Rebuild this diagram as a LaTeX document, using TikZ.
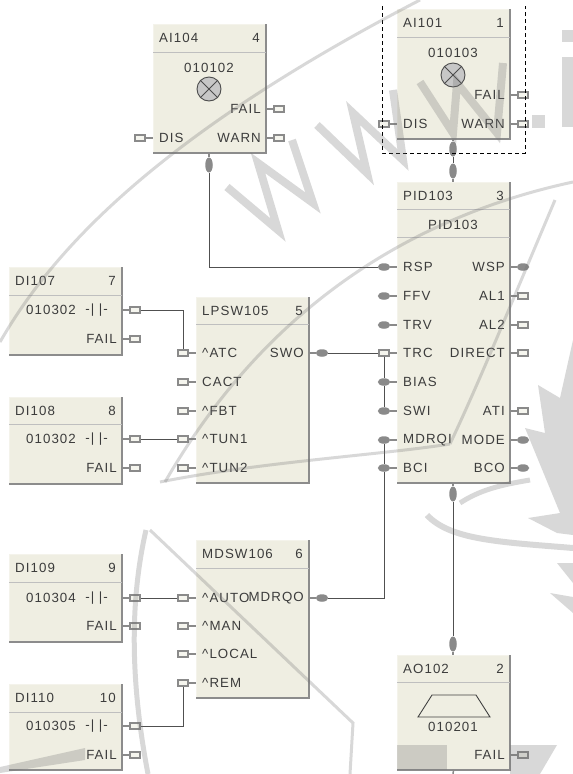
\documentclass[tikz,border=0pt]{standalone}
\usepackage{fontspec}
\setmainfont[LetterSpace=8]{Liberation Sans}
\usepackage{tikz}
\usetikzlibrary{shapes.geometric}
\definecolor{blockfill}{HTML}{EFEEE2}
\definecolor{pingray}{HTML}{8A8A8A}
\definecolor{wiregray}{HTML}{505050}
\definecolor{textgray}{HTML}{3C3C3C}

\begin{document}
\begin{tikzpicture}[x=1pt,y=-1pt,
  block/.style={draw=blockfill!70!white,fill=blockfill,line width=1pt,anchor=north west,inner sep=0pt,outer sep=0pt,minimum width=113pt},
  bevel/.style={draw=black!45,line width=1.5pt},
  rule/.style={draw=black!25,line width=0.9pt},
  lbl/.style={text=textgray,font=\fontsize{13.3}{15}\selectfont,inner sep=0pt},
  sqpin/.style={draw=pingray,fill=blockfill!60!white,line width=1.9pt,rectangle,inner sep=0pt,minimum width=9.5pt,minimum height=5.5pt},
  rdpin/.style={fill=pingray,ellipse,inner sep=0pt,minimum width=12.5pt,minimum height=7.5pt},
  vpin/.style={fill=pingray,ellipse,inner sep=0pt,minimum width=7.5pt,minimum height=15pt},
  stub/.style={draw=pingray,line width=1.5pt},
  wire/.style={draw=wiregray,line width=1pt}]

\useasboundingbox (0,0) rectangle (573,774);

% Draw the blocks
\foreach \blk/\ttl/\num/\x/\y/\h/\d in {ai104/AI104/4/153/24/129/28,ai101/AI101/1/397/9/130/28,
    pid103/PID103/3/397/182/301/27,di107/DI107/7/9/267/88/28,lpsw105/LPSW105/5/196/297/186/27,
    di108/DI108/8/9/397/87/27,mdsw106/MDSW106/6/196/540/158/28,di109/DI109/9/9/554/88/28,
    di110/DI110/10/9/684/86/28,ao102/AO102/2/397/655/115/27} {
  \node[block,minimum height=\h pt] (\blk) at (\x,\y) {};
  \draw[bevel] (\blk.north east) -- (\blk.south east) -- (\blk.south west);
  \draw[rule] (\x,\y+\d) -- (\x+113,\y+\d);
  \node[lbl,anchor=west] (\blk-ttl) at (\x+6,\y+\d/2) {\ttl};
  \node[lbl,anchor=east] (\blk-num) at (\x+107,\y+\d/2) {\num};
}

% Second rule of the PID block
\draw[rule] (397,237) -- (510,237);

% Pins on the left of a block
\foreach \pinn/\x/\y/\txt/\kind in {ai104dis/153/138/DIS/sqpin,ai101dis/397/124/DIS/sqpin,
    pidrsp/397/267/RSP/rdpin,pidffv/397/296/FFV/rdpin,pidtrv/397/325/TRV/rdpin,pidtrc/397/353/TRC/sqpin,
    pidbias/397/382/BIAS/rdpin,pidswi/397/411/SWI/rdpin,pidmdrqi/397/440/MDRQI/rdpin,pidbci/397/468/BCI/rdpin,
    lpswatc/196/353/\textasciicircum ATC/sqpin,lpswcact/196/382/CACT/sqpin,lpswfbt/196/411/\textasciicircum FBT/sqpin,
    lpswtuna/196/439/\textasciicircum TUN1/sqpin,lpswtunb/196/468/\textasciicircum TUN2/sqpin,
    mdswauto/196/598/\textasciicircum AUTO/sqpin,mdswman/196/626/\textasciicircum MAN/sqpin,
    mdswlocal/196/654/\textasciicircum LOCAL/sqpin,mdswrem/196/683/\textasciicircum REM/sqpin} {
  \node[\kind] (\pinn) at (\x-13,\y) {};
  \draw[stub] (\pinn) -- (\x,\y);
  \node[lbl,anchor=west] (\pinn-l) at (\x+6,\y) {\txt};
}

% Pins on the right of a block
\foreach \pinn/\x/\y/\txt/\kind in {ai104fail/266/109/FAIL/sqpin,ai104warn/266/138/WARN/sqpin,
    ai101fail/510/95/FAIL/sqpin,ai101warn/510/124/WARN/sqpin,
    pidwsp/510/267/WSP/rdpin,pidala/510/296/AL1/sqpin,pidalb/510/325/AL2/sqpin,piddirect/510/353/DIRECT/sqpin,
    pidati/510/411/ATI/sqpin,pidmode/510/440/MODE/rdpin,pidbco/510/468/BCO/rdpin,
    lpswswo/309/353/SWO/rdpin,mdswmdrqo/309/598/MDRQO/rdpin,
    di107out/122/310/{}/sqpin,di107fail/122/339/FAIL/sqpin,di108out/122/439/{}/sqpin,di108fail/122/468/FAIL/sqpin,
    di109out/122/598/{}/sqpin,di109fail/122/626/FAIL/sqpin,di110out/122/726/{}/sqpin,di110fail/122/755/FAIL/sqpin,
    aofail/510/755/FAIL/sqpin} {
  \node[\kind] (\pinn) at (\x+13,\y) {};
  \draw[stub] (\pinn) -- (\x,\y);
  \node[lbl,anchor=east] (\pinn-l) at (\x-5,\y) {\txt};
}

% Tags of the blocks
\foreach \tagn/\x/\y/\txt in {ai104tag/209/68/010102,ai101tag/453/53/010103,pidtag/453/225/PID103,
    di107tag/51/310/010302,di108tag/51/439/010302,di109tag/51/598/010304,di110tag/51/726/010305,aotag/453/727/010201}
  \node[lbl] (\tagn) at (\x,\y) {\txt};

% Contact signs
\foreach \sign/\y in {di107sign/310,di108sign/439,di109sign/598,di110sign/726}
  \node[lbl,anchor=east] (\sign) at (108,\y) {-|\,\,|-};

% Gauges
\foreach \gaugen/\x/\y in {ai104gauge/209/89,ai101gauge/453/75} {
  \node[circle,draw=black!70,fill=black!22,line width=0.9pt,minimum size=24pt,inner sep=0pt] (\gaugen) at (\x,\y) {};
  \draw[black!70,line width=0.9pt] (\gaugen.north west) -- (\gaugen.south east) (\gaugen.north east) -- (\gaugen.south west);
}

% Trapezoid of the output block
\draw[black!75,line width=0.9pt] (418,717) -- (432,695) -- (476,695) -- (490,717) -- cycle;

% Pins on the top and the bottom
\foreach \pinn/\x/\y/\edge in {ai104bot/209/165/153,ai101bot/453/149/139,pidtop/453/171/182,pidbot/453/494/483,aotop/453/644/655} {
  \node[vpin] (\pinn) at (\x,\y) {};
  \draw[stub] (\pinn) -- (\x,\edge);
}
\coordinate (aobot) at (453,774);
\draw[stub] (ao102.south) -- (aobot);

% Draw the wires
\draw[wire] (ai104bot) |- (pidrsp);
\draw[wire] (ai101bot) -- (pidtop);
\draw[wire] (lpswswo) -- (pidtrc);
\draw[wire] (pidtrc) -- (pidbias);
\draw[wire] (pidbias) -- (pidswi);
\draw[wire] (mdswmdrqo) -| (pidbci);
\draw[wire] (pidbci) -- (pidmdrqi);
\draw[wire] (pidbot) -- (aotop);
\draw[wire] (di107out) -| (lpswatc);
\draw[wire] (di108out) -- (lpswtuna);
\draw[wire] (di109out) -- (mdswauto);
\draw[wire] (di110out) -| (mdswrem);

% Dashed selection round AI101
\coordinate (seltl) at (382,6);
\coordinate (seltr) at (525,6);
\coordinate (selbr) at (525,153);
\coordinate (selbl) at (382,153);
\draw[black,line width=1pt,dash pattern=on 4pt off 3pt] (seltl) -- (selbl) -- (selbr) -- (seltr);

% Watermark
\begin{scope}[opacity=0.28,draw=black!55,fill=black!55,line width=3pt]
\draw (0,342) .. controls (50,255) and (150,140) .. (420,0);
\draw (573,182) .. controls (420,215) and (270,300) .. (165,482);
\draw (160,482) .. controls (260,462) and (380,455) .. (450,444);
\draw (450,444) .. controls (480,380) and (500,330) .. (555,200);
\draw[line width=5pt] (146,530) .. controls (130,600) and (130,680) .. (148,774);
\draw (150,530) -- (353,723) -- (350,774);
\draw[line width=8pt] (227,187) -- (278,230) -- (258,163) -- (313,203) -- (292,140);
\draw[line width=8pt] (317,125) -- (367,173) -- (353,113) -- (403,160) -- (393,90);
\draw[line width=8pt] (420,82) -- (453,133) -- (457,83) -- (497,133) -- (503,63);
\fill (532,115) rectangle (545,128);
\fill (562,30) rectangle (573,42);
\fill (562,57) rectangle (573,127);
\draw[line width=6pt] (427,515) .. controls (450,540) and (500,542) .. (573,548);
\draw[line width=5pt] (460,503) .. controls (480,490) and (500,485) .. (530,480);
\fill (573,340) -- (560,398) -- (538,385) -- (545,433) -- (525,428) -- (560,513) -- (528,518) -- (557,533) -- (573,535) -- cycle;
\fill (557,563) -- (573,563) -- (573,583) -- cycle;
\fill (550,593) -- (573,597) -- (573,613) -- cycle;
\fill (510,745) -- (557,745) -- (540,774) -- (510,774) -- cycle;
\fill (397,745) rectangle (447,770);
\fill (0,767) -- (85,748) -- (85,760) -- (0,773) -- cycle;
\end{scope}
\end{tikzpicture}
\end{document}
